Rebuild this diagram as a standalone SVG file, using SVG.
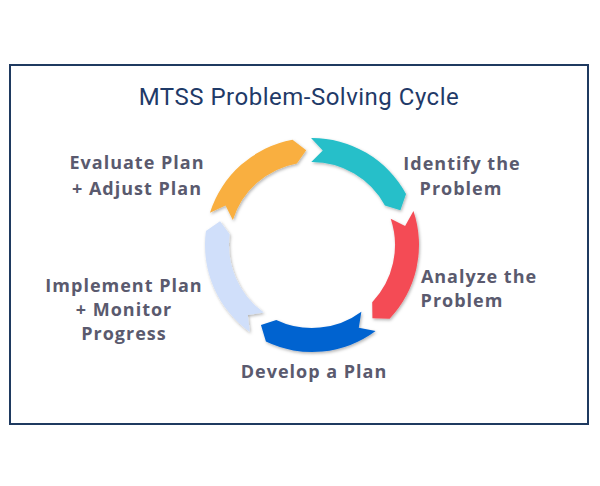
<svg xmlns="http://www.w3.org/2000/svg" width="600" height="486" viewBox="0 0 600 486">
<style>
.lbl{font-family:"Open Sans",sans-serif;font-weight:bold;font-size:18px;letter-spacing:1px;fill:#5a5a6e;text-anchor:middle}
.title{font-family:Roboto,sans-serif;font-size:24px;letter-spacing:0.5px;fill:#1f3a68;text-anchor:middle}
</style>
<defs><filter id="sh" x="-10%" y="-10%" width="120%" height="120%"><feDropShadow dx="1" dy="1.5" stdDeviation="1.5" flood-color="#000" flood-opacity="0.3"/></filter></defs>
<rect width="600" height="486" fill="#fff"/>
<rect x="10" y="65" width="578" height="359" fill="none" stroke="#1f3a60" stroke-width="2"/>
<text class="title" x="299" y="105">MTSS Problem-Solving Cycle</text>
<g id="connectors" filter="url(#sh)">
<path id="s1" fill="#26bfc9" d="M311.07,138 A107,107 0 0 1 406.03,193.94 L400.39,210.18 L384.94,205.39 A83,83 0 0 0 311.28,162 L322.75,150.61 Z"/>
<path id="s2" fill="#f44c55" d="M413.47,211.05 A107,107 0 0 1 389.62,318.66 L372.43,318.3 L372.21,302.14 A83,83 0 0 0 390.71,218.66 L405.09,226.06 Z"/>
<path id="s3" fill="#0563d0" d="M375.64,331.02 A107,107 0 0 1 265.94,341.58 L260.96,325.12 L276.27,319.92 A83,83 0 0 0 361.37,311.72 L358.78,327.69 Z"/>
<path id="s4" fill="#d0dffa" d="M249.87,332.11 A107,107 0 0 1 205.92,231.04 L220.03,221.21 L229.71,234.17 A83,83 0 0 0 263.8,312.57 L247.82,315.04 Z"/>
<path id="s5" fill="#f9af3f" d="M209.95,212.83 A107,107 0 0 1 292.5,139.79 L306.2,150.18 L296.88,163.39 A83,83 0 0 0 232.84,220.04 L225.55,205.6 Z"/>
</g>
<g id="n1"><text class="lbl" x="462" y="170">Identify the</text><text class="lbl" x="461" y="195">Problem</text></g>
<g id="n2"><text class="lbl" x="479" y="283">Analyze the</text><text class="lbl" x="462" y="307">Problem</text></g>
<g id="n3"><text class="lbl" x="314" y="378">Develop a Plan</text></g>
<g id="n4"><text class="lbl" x="124" y="292">Implement Plan</text><text class="lbl" x="124" y="316">+ Monitor</text><text class="lbl" x="124" y="340">Progress</text></g>
<g id="n5"><text class="lbl" x="137" y="169">Evaluate Plan</text><text class="lbl" x="137" y="195">+ Adjust Plan</text></g>
</svg>
